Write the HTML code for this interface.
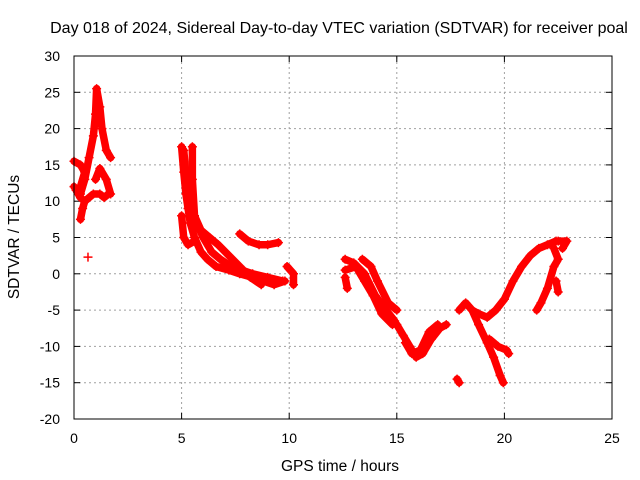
<!DOCTYPE html>
<html><head><meta charset="utf-8"><style>
body{margin:0;background:#fff;}
svg{display:block;font-family:"Liberation Sans",sans-serif;}
</style></head><body>
<svg id="chart" width="640" height="480">
<text x="339" y="33" text-anchor="middle" font-size="16">Day 018 of 2024, Sidereal Day-to-day VTEC variation (SDTVAR) for receiver poal</text>
<text x="340" y="471" text-anchor="middle" font-size="15.5">GPS time / hours</text>
<text transform="translate(19,237) rotate(-90)" text-anchor="middle" font-size="15.5">SDTVAR / TECUs</text>
<g id="grid"></g><g id="ticks"></g><g id="marks"></g>
<rect x="74" y="56" width="538" height="363" fill="none" stroke="#000" stroke-width="1"/>
</svg>
<script>
const xTicks=[0,5,10,15,20,25];
const yTicks=[-20,-15,-10,-5,0,5,10,15,20,25,30];
const traceA1=[[0,12],[0.3,11],[0.5,13],[0.7,16],[0.9,19],[1.0,22],[1.05,25.5],[1.2,23],[1.3,20],[1.5,17],[1.7,16]];
const traceA2=[[0,15.5],[0.3,15],[0.5,14],[0.3,12],[0.1,11.5],[0.3,10.5],[0.5,10],[0.9,11],[1.2,11],[1.4,10.5],[1.6,11]];
const traceA3=[[1.0,13],[1.2,14.5],[1.5,13],[1.7,11]];
const traceA4=[[0.3,7.5],[0.4,9],[0.5,10]];
const traceA5=[[0.65,2.3]];
const traceB1=[[5.0,17.5],[5.1,14],[5.2,11],[5.3,9],[5.4,7],[5.6,5],[5.9,3],[6.2,2],[6.6,1],[7.2,0.5],[7.7,0],[8.3,-0.5],[8.8,-1],[9.3,-1.5],[9.8,-1]];
const traceB2=[[5.1,17],[5.25,12],[5.5,9],[5.7,7],[6.0,5],[6.4,3],[6.8,2],[7.3,1],[7.8,0.5],[8.3,0],[9.0,-0.5],[9.7,-1]];
const traceB3=[[5.5,17.5],[5.5,13],[5.6,8],[5.9,6],[6.3,5],[6.7,4],[7.2,2.5],[7.7,1],[8.2,-0.5],[8.7,-1.5]];
const traceB4=[[7.7,5.5],[8.1,4.5],[8.6,4],[9.0,4],[9.5,4.3]];
const traceB5=[[5.0,8],[5.1,5],[5.3,4],[5.6,4.5]];
const traceB6=[[9.9,1],[10.2,0],[10.2,-1.5]];
const traceC1=[[12.6,2],[13.0,1.5],[13.5,0],[14.0,-3],[14.5,-5],[14.9,-6.5]];
const traceC2=[[12.6,0.5],[13.1,1],[13.5,-1],[13.9,-3],[14.3,-5.5],[14.8,-7]];
const traceC3=[[13.4,2],[13.8,1],[14.1,-1],[14.6,-4],[15.0,-5]];
const traceC4=[[15.0,-7],[15.3,-8.5],[15.6,-10],[15.9,-11.5],[16.2,-11],[16.6,-9],[17.0,-7.5],[17.3,-7]];
const traceC5=[[15.4,-9.5],[15.7,-11],[16.1,-10.5],[16.5,-8],[16.9,-7]];
const traceC6=[[17.9,-5],[18.2,-4],[18.5,-5],[18.8,-5.5],[19.2,-6],[19.6,-5],[20.0,-3.5],[20.4,-1],[20.8,1],[21.2,2.5],[21.6,3.5],[22.0,4],[22.4,4.5]];
const traceC7=[[18.5,-5],[18.8,-7],[19.2,-9.5],[19.5,-11.5],[19.8,-14],[19.95,-15]];
const traceC8=[[19.3,-9],[19.7,-10],[20.1,-10.5],[20.2,-11]];
const traceC9=[[22.3,3.5],[22.5,2],[22.3,1],[22.0,-2],[21.7,-4],[21.5,-5]];
const traceC10=[[22.5,4.5],[22.9,4.5],[22.7,3.5]];
const traceC11=[[22.4,-1],[22.5,-2.5]];
const traceC12=[[17.8,-14.5],[17.9,-15]];
const traceC13=[[12.6,-0.5],[12.7,-2]];
const traces=[traceA1,traceA2,traceA3,traceA4,traceA5,traceB1,traceB2,traceB3,traceB4,traceB5,traceB6,traceC1,traceC2,traceC3,traceC4,traceC5,traceC6,traceC7,traceC8,traceC9,traceC10,traceC11,traceC12,traceC13];
const NS="http://www.w3.org/2000/svg";
const X0=74,X1=612,Y0=419,Y1=56;
function sx(v){return X0+(v-0)/(25-0)*(X1-X0);}
function sy(v){return Y0-(v+20)/(30+20)*(Y0-Y1);}
function mk(tag,attrs,parent){const e=document.createElementNS(NS,tag);for(const k in attrs)e.setAttribute(k,attrs[k]);parent.appendChild(e);return e;}
const grid=document.getElementById('grid'),ticks=document.getElementById('ticks'),marks=document.getElementById('marks');
xTicks.forEach(t=>{
  const x=sx(t);
  if(t>0&&t<25){const g=mk('line',{x1:x,x2:x,y1:Y0,y2:Y1,stroke:'#a0a0a0','stroke-dasharray':'2,3'},grid);
  
  }
  mk('line',{x1:x,x2:x,y1:Y0,y2:Y0-6,stroke:'#000'},ticks);
  mk('line',{x1:x,x2:x,y1:Y1,y2:Y1+6,stroke:'#000'},ticks);
  const l=mk('text',{x:x,y:443,'text-anchor':'middle','font-size':14},ticks);l.textContent=t;
  
  
});
yTicks.forEach(t=>{
  const y=sy(t);
  if(t>-20&&t<30){const g=mk('line',{x1:X0,x2:X1,y1:y,y2:y,stroke:'#a0a0a0','stroke-dasharray':'2,3'},grid);
  
  }
  mk('line',{x1:X0,x2:X0+6,y1:y,y2:y,stroke:'#000'},ticks);
  mk('line',{x1:X1,x2:X1-6,y1:y,y2:y,stroke:'#000'},ticks);
  const l=mk('text',{x:60,y:y+5,'text-anchor':'end','font-size':14},ticks);l.textContent=t;
  
  
});
traces.forEach(tr=>{
  if(tr.length>1){
    const p=mk('polyline',{points:tr.map(d=>sx(d[0])+','+sy(d[1])).join(' '),fill:'none',stroke:'#f00','stroke-width':7.5,'stroke-linejoin':'round','stroke-linecap':'round'},marks);
    
    
  }
  tr.forEach(d=>{
    const x=sx(d[0]),y=sy(d[1]);
    const m=mk('path',{d:`M${x-4.5},${y}H${x+4.5}M${x},${y-4.5}V${y+4.5}`,stroke:'#f00','stroke-width':1.5},marks);
    
    
  });
});
</script>
</body></html>
